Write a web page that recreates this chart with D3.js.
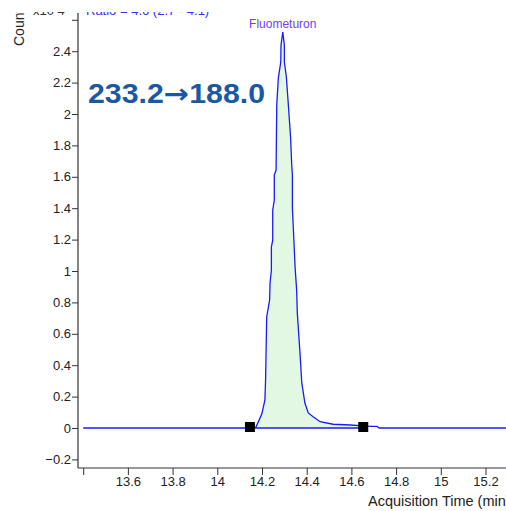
<!DOCTYPE html>
<html>
<head>
<meta charset="utf-8">
<script src="https://cdn.jsdelivr.net/npm/d3@7"></script>
<style>
  html, body { margin: 0; padding: 0; background: #fff; }
  svg { display: block; }
  text { font-family: "Liberation Sans", Arial, sans-serif; }
</style>
</head>
<body>
<svg id="chart" width="506" height="511"></svg>
<script>
// retention time (min) and response (counts)
const times = [13.40, 14.146, 14.173, 14.199, 14.213, 14.216, 14.221, 14.234, 14.236, 14.242,
  14.242, 14.248, 14.248, 14.255, 14.255, 14.263, 14.266, 14.273, 14.284, 14.285,
  14.293, 14.300, 14.300, 14.309, 14.318, 14.328, 14.333, 14.336, 14.336, 14.342,
  14.348, 14.355, 14.358, 14.370, 14.378, 14.392, 14.407, 14.430, 14.460, 14.518,
  14.594, 14.653, 14.692, 14.715, 14.724, 15.6];
const counts = [0, 0, 0.006, 0.089, 0.178, 0.306, 0.707, 0.815, 0.924, 1.006,
  1.153, 1.197, 1.389, 1.452, 1.611, 1.643, 2.057, 2.229, 2.331, 2.439,
  2.522, 2.439, 2.331, 2.236, 2.057, 1.847, 1.675, 1.611, 1.401, 1.217,
  1.025, 0.879, 0.732, 0.478, 0.287, 0.159, 0.096, 0.070, 0.040, 0.024,
  0.019, 0.013, 0.010, 0.010, 0, 0];
const integration = [14.146, 14.653]; // peak start / end markers
const xTicks = [13.4, 13.6, 13.8, 14, 14.2, 14.4, 14.6, 14.8, 15, 15.2, 15.4];
const yTicks = [-0.2, 0, 0.2, 0.4, 0.6, 0.8, 1, 1.2, 1.4, 1.6, 1.8, 2, 2.2, 2.4, 2.6];
const peakName = 'Fluometuron';
const transition = ['233.2', '\u2192', '188.0'];

const svg = d3.select('#chart');
const x = d3.scaleLinear().domain([14, 15]).range([217.3, 440.8]);
const y = d3.scaleLinear().domain([0, 2.4]).range([428, 51.2]);
const pts = times.map((t, i) => ({ t, v: counts[i] }));

const defs = svg.append('defs');
defs.append('clipPath').attr('id', 'clip')
  .append('rect').attr('x', 0).attr('y', 12).attr('width', 506).attr('height', 499);

const g = svg.append('g').attr('clip-path', 'url(#clip)');

// header texts, cut off by the crop of the original
g.append('text').attr('x', 33).attr('y', 15).attr('font-size', 13).attr('fill', '#333')
  .text('x10 4');
g.append('text').attr('x', 86).attr('y', 15).attr('font-size', 13).attr('fill', '#3030ff')
  .text('Ratio = 4.6 (2.7 - 4.1)');

// filled peak area
const inPeak = pts.filter((d) => d.t >= integration[0] && d.t <= integration[1]);
g.append('path')
  .datum(inPeak)
  .attr('fill', '#e2f8e2')
  .attr('d', d3.area().x((d) => x(d.t)).y0(y(0)).y1((d) => y(d.v)));

// trace
g.append('path')
  .datum(pts)
  .attr('fill', 'none')
  .attr('stroke', '#1a1aff')
  .attr('stroke-width', 1.3)
  .attr('d', d3.line().x((d) => x(d.t)).y((d) => y(d.v)));

// baseline between markers
g.append('line')
  .attr('x1', x(integration[0])).attr('x2', x(integration[1]))
  .attr('y1', y(0)).attr('y2', y(0))
  .attr('stroke', '#1a1aff').attr('stroke-width', 1.3);

g.selectAll('rect.mark')
  .data(integration)
  .join('rect')
  .attr('class', 'mark')
  .attr('x', (d) => x(d) - 5)
  .attr('y', y(0) - 6)
  .attr('width', 10)
  .attr('height', 10)
  .attr('fill', '#000');

// axes
const yAxis = d3.axisLeft(y).tickValues(yTicks).tickSize(6).tickSizeOuter(0)
  .tickFormat((d) => (d === 2.6 ? '' : d3.format('~g')(d)));
const ya = g.append('g').attr('transform', 'translate(78,0)').call(yAxis);
ya.select('.domain').remove();
ya.append('line').attr('x1', 0).attr('x2', 0).attr('y1', 13).attr('y2', 468)
  .attr('stroke', '#333').attr('stroke-width', 1.2);

const xAxis = d3.axisBottom(x).tickValues(xTicks).tickSize(7).tickSizeOuter(0)
  .tickFormat((d) => (d === 13.4 ? '' : d3.format('~g')(d)));
const xa = g.append('g').attr('transform', 'translate(0,468)').call(xAxis);
xa.select('.domain').remove();
xa.append('line').attr('x1', 78).attr('x2', 506).attr('y1', 0).attr('y2', 0)
  .attr('stroke', '#333').attr('stroke-width', 1.2);

[ya, xa].forEach((a) => {
  a.selectAll('.tick line').attr('stroke', '#333');
  a.selectAll('.tick text').attr('fill', '#222').attr('font-size', 13)
    .attr('font-family', '"Liberation Sans", Arial, sans-serif');
});
ya.selectAll('.tick text').attr('x', -7);
xa.selectAll('.tick text').attr('y', 9);

// axis titles
g.append('text').attr('x', 368).attr('y', 506).attr('font-size', 14.5).attr('fill', '#222')
  .text('Acquisition Time (min)');
g.append('text').attr('transform', 'translate(24,46) rotate(-90)')
  .attr('font-size', 14).attr('fill', '#222').text('Counts');

// annotations
const apex = pts[d3.maxIndex(pts, (d) => d.v)];
g.append('text').attr('x', x(apex.t)).attr('y', 28).attr('text-anchor', 'middle')
  .attr('font-size', 12).attr('fill', '#6e3cff').text(peakName);

const big = g.append('text').attr('x', 88).attr('y', 103)
  .attr('font-family', '"Open Sans", "DejaVu Sans", sans-serif')
  .attr('font-weight', 'bold').attr('font-size', 27).attr('fill', '#1b58a3')
  .attr('textLength', 177).attr('lengthAdjust', 'spacingAndGlyphs');
big.selectAll('tspan')
  .data(transition)
  .join('tspan')
  .attr('font-family', (d, i) => (i === 1 ? '"DejaVu Sans", sans-serif' : null))
  .text((d) => d);
</script>
</body>
</html>
